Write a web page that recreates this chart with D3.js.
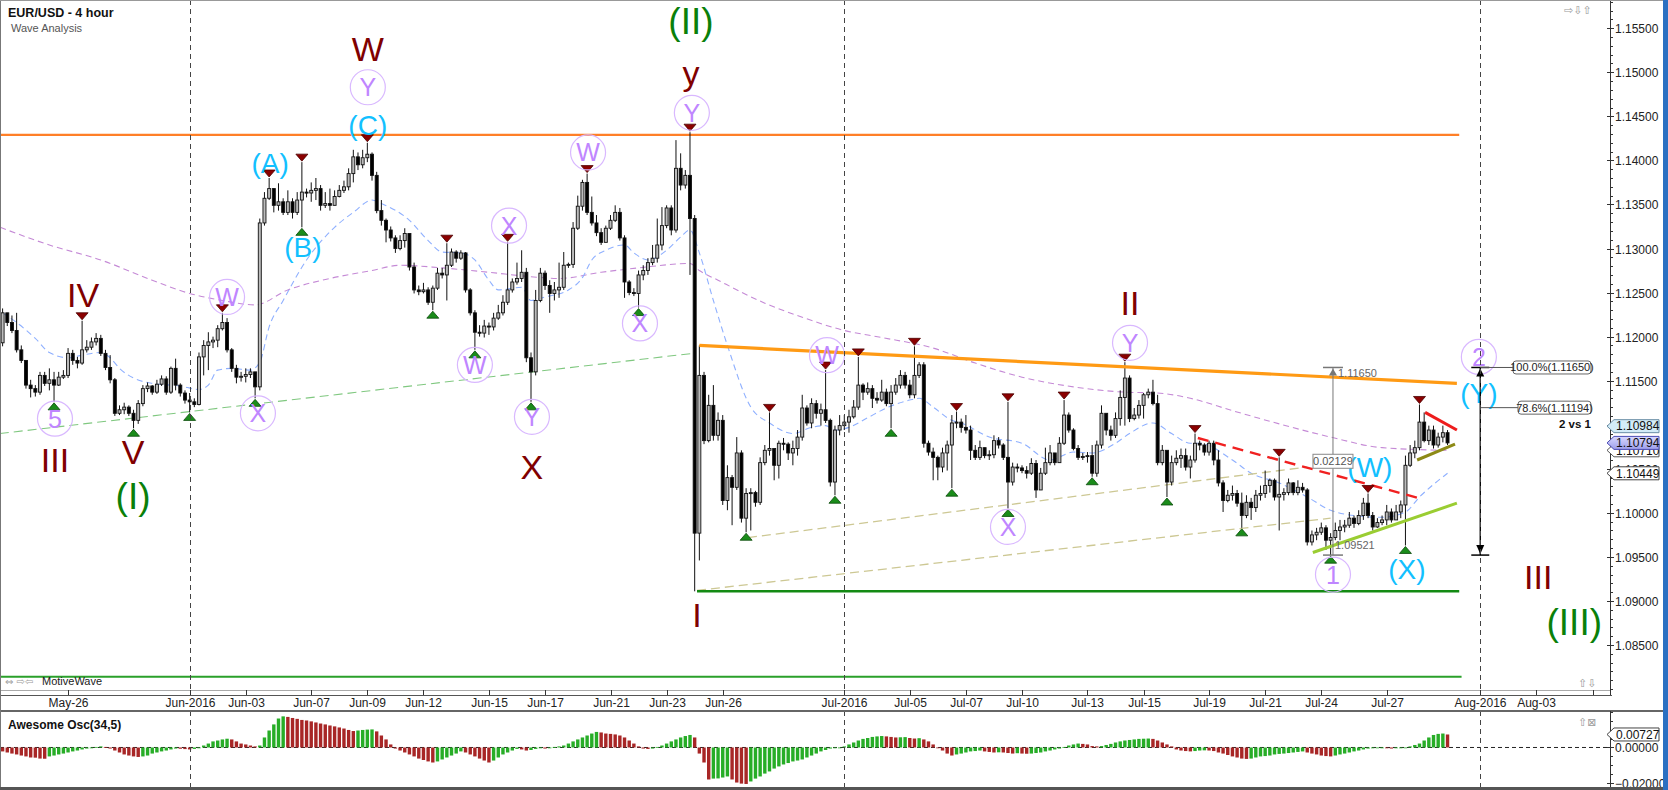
<!DOCTYPE html>
<html><head><meta charset="utf-8">
<script src="https://cdn.jsdelivr.net/npm/d3@7"></script>
<style>
html,body{margin:0;padding:0;background:#fff;overflow:hidden;}
svg{display:block;font-family:"Liberation Sans",Arial,sans-serif;}
</style></head><body>
<svg id="c" width="1668" height="790"></svg>
<script>
// ---------------- DATA ----------------
const title = "EUR/USD - 4 hour";
const subtitle = "Wave Analysis";
const oscTitle = "Awesome Osc(34,5)";
// 4-hour bars; first bar = 5th bar of 2016-05-23
const startDay = "2016-05-23";
const startBarOfDay = 4;
const firstOpen = 1.1193;
const closes = [
1.1227,1.1216,1.1207,1.1185,1.1173,1.1145,1.1141,1.1137,1.1156,1.1147,
1.1151,1.1145,1.1154,1.1156,1.1181,1.1173,1.1170,1.1185,1.1188,1.1194,
1.1198,1.1181,1.1165,1.1151,1.1113,1.1117,1.1120,1.1113,1.1105,1.1124,
1.1141,1.1144,1.1137,1.1146,1.1152,1.1137,1.1164,1.1145,1.1136,1.1128,
1.1126,1.1123,1.1177,1.1190,1.1194,1.1196,1.1209,1.1216,1.1185,1.1164,
1.1154,1.1155,1.1157,1.1160,1.1143,1.1329,1.1357,1.1368,1.1349,1.1353,
1.1341,1.1353,1.1341,1.1355,1.1364,1.1363,1.1366,1.1368,1.1349,1.1351,
1.1349,1.1359,1.1366,1.1370,1.1385,1.1404,1.1395,1.1403,1.1407,1.1383,
1.1343,1.1332,1.1321,1.1312,1.1300,1.1309,1.1317,1.1279,1.1253,1.1251,
1.1253,1.1239,1.1255,1.1272,1.1270,1.1281,1.1296,1.1289,1.1295,1.1253,
1.1227,1.1205,1.1204,1.1212,1.1211,1.1221,1.1227,1.1239,1.1253,1.1262,
1.1266,1.1273,1.1176,1.1160,1.1241,1.1272,1.1258,1.1249,1.1253,1.1256,
1.1281,1.1282,1.1323,1.1348,1.1375,1.1341,1.1329,1.1318,1.1307,1.1323,
1.1332,1.1341,1.1312,1.1262,1.1250,1.1249,1.1270,1.1275,1.1284,1.1289,
1.1304,1.1326,1.1346,1.1321,1.1391,1.1372,1.1383,1.1334,1.0977,1.1156,
1.1082,1.1122,1.1088,1.1105,1.1014,1.1040,1.1029,1.1068,1.0994,1.1022,
1.1023,1.1012,1.1057,1.1071,1.1073,1.1054,1.1079,1.1078,1.1068,1.1073,
1.1086,1.1119,1.1102,1.1124,1.1113,1.1117,1.1105,1.1035,1.1094,1.1099,
1.1103,1.1109,1.1120,1.1145,1.1137,1.1141,1.1130,1.1128,1.1137,1.1124,
1.1137,1.1145,1.1156,1.1145,1.1134,1.1156,1.1168,1.1079,1.1069,1.1063,
1.1052,1.1068,1.1077,1.1102,1.1103,1.1097,1.1094,1.1071,1.1063,1.1074,
1.1065,1.1066,1.1082,1.1077,1.1063,1.1035,1.1052,1.1051,1.1048,1.1045,
1.1056,1.1026,1.1045,1.1057,1.1068,1.1057,1.1079,1.1111,1.1094,1.1073,
1.1063,1.1064,1.1065,1.1045,1.1077,1.1113,1.1094,1.1088,1.1107,1.1131,
1.1153,1.1107,1.1111,1.1122,1.1134,1.1137,1.1124,1.1057,1.1071,1.1035,
1.1057,1.1062,1.1065,1.1052,1.1060,1.1079,1.1077,1.1069,1.1079,1.1060,
1.1034,1.1014,1.1020,1.1022,1.1011,1.0997,1.1012,1.1006,1.1020,1.1022,
1.1031,1.1037,1.1018,1.1021,1.1023,1.1034,1.1023,1.1029,1.1026,1.0967,
1.0975,1.0978,1.0983,1.0969,1.0972,1.0980,1.0984,1.0986,1.0994,1.0988,
1.0997,1.1011,1.0997,1.0984,1.0989,1.0992,1.1001,1.0992,1.1001,1.1009,
1.1054,1.1068,1.1074,1.1103,1.1082,1.1094,1.1077,1.1086,1.1091,1.10794];
const highs = [
1.1232,1.1224,1.1224,1.1227,1.1190,1.1173,1.1151,1.1145,1.1160,1.1160,
1.1164,1.1160,1.1160,1.1162,1.1187,1.1185,1.1177,1.1218,1.1196,1.1199,
1.1204,1.1202,1.1185,1.1179,1.1153,1.1122,1.1125,1.1122,1.1117,1.1128,
1.1145,1.1148,1.1145,1.1151,1.1156,1.1155,1.1166,1.1175,1.1147,1.1139,
1.1136,1.1130,1.1182,1.1196,1.1205,1.1200,1.1213,1.1227,1.1221,1.1187,
1.1168,1.1160,1.1164,1.1164,1.1160,1.1334,1.1364,1.1380,1.1368,1.1374,
1.1357,1.1366,1.1357,1.1364,1.1398,1.1368,1.1375,1.1380,1.1372,1.1364,
1.1368,1.1366,1.1372,1.1377,1.1391,1.1412,1.1409,1.1412,1.1420,1.1409,
1.1387,1.1355,1.1334,1.1325,1.1315,1.1315,1.1323,1.1315,1.1284,1.1258,
1.1261,1.1256,1.1258,1.1278,1.1278,1.1306,1.1300,1.1298,1.1298,1.1296,
1.1255,1.1230,1.1213,1.1219,1.1216,1.1227,1.1236,1.1247,1.1307,1.1266,
1.1284,1.1298,1.1278,1.1182,1.1253,1.1278,1.1275,1.1264,1.1262,1.1284,
1.1296,1.1284,1.1330,1.1360,1.1378,1.1385,1.1359,1.1338,1.1323,1.1326,
1.1338,1.1349,1.1346,1.1315,1.1264,1.1255,1.1275,1.1281,1.1289,1.1304,
1.1334,1.1347,1.1349,1.1349,1.1423,1.1408,1.1389,1.1432,1.1338,1.1190,
1.1160,1.1134,1.1145,1.1114,1.1111,1.1054,1.1043,1.1086,1.1071,1.1028,
1.1028,1.1025,1.1063,1.1077,1.1114,1.1071,1.1082,1.1085,1.1080,1.1082,
1.1094,1.1134,1.1122,1.1130,1.1128,1.1124,1.1162,1.1107,1.1099,1.1111,
1.1111,1.1117,1.1128,1.1177,1.1147,1.1148,1.1145,1.1137,1.1151,1.1141,
1.1145,1.1153,1.1162,1.1160,1.1151,1.1189,1.1171,1.1171,1.1082,1.1074,
1.1065,1.1074,1.1082,1.1111,1.1115,1.1107,1.1111,1.1099,1.1077,1.1082,
1.1071,1.1071,1.1088,1.1086,1.1079,1.1126,1.1057,1.1056,1.1054,1.1053,
1.1062,1.1060,1.1051,1.1074,1.1077,1.1065,1.1086,1.1128,1.1114,1.1096,
1.1077,1.1068,1.1069,1.1077,1.1082,1.1122,1.1113,1.1099,1.1114,1.1139,
1.1171,1.1156,1.1119,1.1128,1.1136,1.1141,1.1151,1.1134,1.1077,1.1071,
1.1065,1.1071,1.1073,1.1073,1.1065,1.1090,1.1082,1.1079,1.1082,1.1082,
1.1071,1.1037,1.1026,1.1031,1.1026,1.1023,1.1020,1.1017,1.1026,1.1031,
1.1048,1.1039,1.1039,1.1063,1.1028,1.1039,1.1035,1.1037,1.1034,1.1028,
1.0980,1.0983,1.0989,1.0986,1.0977,1.0989,1.0992,1.0992,1.1001,1.0997,
1.1003,1.1017,1.1022,1.1001,1.0994,1.0997,1.1009,1.1005,1.1009,1.1014,
1.1065,1.1077,1.1082,1.1123,1.1114,1.1099,1.1099,1.1091,1.1099,1.1094];
const lows = [
1.1189,1.1212,1.1204,1.1182,1.1170,1.1141,1.1131,1.1132,1.1134,1.1144,
1.1139,1.1126,1.1144,1.1152,1.1153,1.1168,1.1164,1.1168,1.1182,1.1185,
1.1190,1.1178,1.1162,1.1147,1.1110,1.1111,1.1112,1.1110,1.1096,1.1101,
1.1121,1.1137,1.1134,1.1135,1.1144,1.1134,1.1135,1.1139,1.1132,1.1124,
1.1114,1.1120,1.1122,1.1156,1.1162,1.1187,1.1188,1.1207,1.1182,1.1160,
1.1147,1.1149,1.1148,1.1153,1.1130,1.1139,1.1326,1.1355,1.1341,1.1343,
1.1338,1.1338,1.1334,1.1338,1.1324,1.1358,1.1353,1.1355,1.1343,1.1346,
1.1343,1.1355,1.1358,1.1363,1.1366,1.1375,1.1389,1.1391,1.1398,1.1377,
1.1340,1.1326,1.1307,1.1308,1.1295,1.1298,1.1301,1.1275,1.1249,1.1247,
1.1249,1.1236,1.1230,1.1253,1.1266,1.1241,1.1279,1.1284,1.1287,1.1250,
1.1224,1.1185,1.1200,1.1199,1.1202,1.1207,1.1219,1.1224,1.1236,1.1250,
1.1259,1.1262,1.1171,1.1126,1.1156,1.1239,1.1253,1.1227,1.1241,1.1244,
1.1253,1.1278,1.1278,1.1321,1.1343,1.1338,1.1326,1.1314,1.1304,1.1307,
1.1321,1.1330,1.1309,1.1244,1.1247,1.1246,1.1233,1.1264,1.1270,1.1281,
1.1284,1.1298,1.1323,1.1315,1.1318,1.1366,1.1368,1.1270,1.0911,1.0946,
1.1078,1.1080,1.1082,1.1082,1.1009,1.1003,1.0986,1.1026,1.0989,1.0978,
1.0980,1.1007,1.1009,1.1054,1.1065,1.1037,1.1039,1.1071,1.1060,1.1054,
1.1065,1.1082,1.1099,1.1096,1.1107,1.1099,1.1102,1.1030,1.1020,1.1088,
1.1094,1.1091,1.1107,1.1117,1.1128,1.1134,1.1119,1.1124,1.1126,1.1121,
1.1096,1.1134,1.1141,1.1141,1.1130,1.1130,1.1153,1.1074,1.1065,1.1037,
1.1037,1.1046,1.1048,1.1028,1.1096,1.1091,1.1090,1.1060,1.1060,1.1060,
1.1062,1.1060,1.1062,1.1073,1.1060,1.1005,1.1031,1.1046,1.1045,1.1039,
1.1043,1.1017,1.1037,1.1043,1.1054,1.1054,1.1057,1.1077,1.1091,1.1071,
1.1060,1.1060,1.1057,1.1041,1.1041,1.1073,1.1088,1.1082,1.1085,1.1099,
1.1099,1.1103,1.1105,1.1107,1.1107,1.1130,1.1122,1.1054,1.1054,1.1018,
1.1031,1.1054,1.1051,1.1048,1.1039,1.1057,1.1071,1.1065,1.1065,1.1054,
1.1030,1.1001,1.1012,1.1014,1.1007,1.0983,1.0994,1.0992,1.1001,1.1014,
1.1017,1.1023,1.1014,1.0980,1.1014,1.1020,1.1020,1.1020,1.1023,1.0963,
1.0963,1.0969,1.0975,1.0958,1.0952,1.0969,1.0969,1.0978,1.0983,1.0983,
1.0986,1.0992,1.0994,1.0980,1.0983,1.0986,1.0986,1.0989,1.0992,1.0994,
1.0963,1.1052,1.1062,1.1071,1.1080,1.1077,1.1073,1.1074,1.1080,1.1077];
// Awesome Oscillator values, in thousandths
const aoMilli = [
-2.2,-2.8,-3.4,-3.9,-4.5,-5.0,-5.6,-5.7,-6.2,-6.3,
-5.0,-4.5,-3.9,-3.4,-2.8,-2.2,-1.7,-1.1,-0.6,0.0,
0.3,0.6,0.3,-0.6,-1.7,-2.8,-3.9,-4.5,-5.0,-5.3,
-5.0,-4.5,-3.4,-2.8,-2.2,-1.7,-1.1,-0.6,-0.7,-0.9,
-1.1,-0.8,0.0,1.1,2.2,3.4,3.9,4.5,4.9,4.5,
3.4,2.2,1.7,1.1,0.6,1.1,5.6,9.5,12.9,16.2,
17.4,17.1,16.5,16.0,15.4,15.1,14.6,14.0,13.4,12.9,
12.3,11.8,11.2,10.6,9.8,9.2,9.5,9.8,10.0,10.1,
9.0,6.7,4.5,1.7,-0.6,-1.7,-2.8,-3.9,-5.0,-6.2,
-7.0,-7.8,-8.4,-7.8,-6.7,-5.6,-4.5,-3.4,-2.2,-2.8,
-3.9,-5.0,-6.2,-7.3,-8.4,-7.3,-5.6,-3.9,-2.8,-1.7,
-0.8,-1.1,-1.7,-1.4,-0.8,-0.3,-0.6,-0.3,0.3,0.6,
1.1,2.2,3.4,4.5,5.6,6.7,7.8,8.7,8.4,7.8,
7.6,7.3,6.7,5.6,3.9,2.2,0.6,-0.6,-0.8,-0.6,
0.3,1.1,2.2,3.4,4.5,5.6,6.4,7.0,5.6,-3.4,
-8.4,-17.9,-17.4,-17.3,-16.8,-16.2,-17.9,-19.6,-20.2,-20.4,
-19.0,-17.4,-16.2,-14.6,-13.4,-11.8,-10.6,-9.5,-8.7,-7.8,
-7.3,-6.7,-5.6,-4.5,-3.4,-2.2,-1.4,-0.6,-0.2,-0.1,
0.6,1.7,2.8,3.9,4.8,5.3,5.9,6.2,6.4,6.2,
5.9,5.6,5.7,5.8,5.3,5.0,5.2,4.5,3.4,1.7,
0.0,-1.7,-3.4,-4.5,-3.9,-3.4,-2.8,-2.2,-2.0,-1.7,
-2.2,-2.5,-2.8,-2.7,-2.8,-3.1,-3.4,-3.2,-3.4,-3.5,
-3.4,-3.1,-2.8,-2.2,-1.7,-1.1,-0.6,0.3,1.1,1.7,
2.2,2.0,1.7,0.8,0.6,0.8,1.4,2.0,2.8,3.4,
3.9,4.2,4.5,4.8,4.9,5.0,4.8,3.9,2.8,1.7,
0.6,-1.1,-1.7,-2.0,-2.2,-2.0,-1.7,-1.6,-1.7,-2.0,
-2.8,-3.4,-4.2,-5.0,-5.6,-6.2,-6.4,-6.2,-5.6,-5.0,
-4.8,-4.5,-3.9,-3.6,-3.4,-3.1,-2.8,-2.5,-2.2,-2.8,
-3.4,-3.9,-4.5,-4.8,-5.0,-4.5,-3.9,-3.4,-2.8,-2.2,
-1.7,-1.1,-0.6,-0.3,-0.1,0.0,-0.3,-0.6,-0.4,-0.2,
0.0,0.6,1.4,2.2,3.9,5.6,7.0,7.6,7.8,7.27];
// moving averages read at sample bars [bar, price]
const maFast = [[0,1.1227],[3,1.1216],[7,1.1198],[10,1.1182],[14,1.1176],[17,1.1179],[21,1.1182],[23,1.1176],[25,1.1164],[28,1.1153],[32,1.1147],[38,1.1144],[42,1.1140],[44,1.1145],[46,1.1162],[49,1.1164],[53,1.1162],[55,1.1171],[57,1.1211],[60,1.1241],[65,1.1287],[71,1.1324],[75,1.1341],[79,1.1355],[81,1.1351],[87,1.1332],[91,1.1309],[94,1.1296],[98,1.1295],[101,1.1287],[104,1.1264],[106,1.1253],[111,1.1256],[113,1.1241],[116,1.1245],[121,1.1253],[124,1.1267],[126,1.1287],[129,1.1298],[133,1.1304],[135,1.1295],[138,1.1287],[142,1.1298],[145,1.1313],[147,1.1321],[149,1.1295],[152,1.1241],[155,1.1190],[160,1.1120],[164,1.1102],[169,1.1090],[173,1.1097],[176,1.1099],[178,1.1094],[181,1.1097],[185,1.1108],[189,1.1119],[194,1.1128],[196,1.1130],[199,1.1120],[203,1.1105],[205,1.1102],[211,1.1086],[218,1.1079],[224,1.1060],[229,1.1069],[233,1.1068],[238,1.1079],[241,1.1090],[246,1.1102],[250,1.1090],[254,1.1079],[256,1.1079],[263,1.1060],[267,1.1045],[273,1.1034],[279,1.1018],[284,1.1003],[289,1.0997],[295,1.0995],[300,1.1001],[303,1.1018],[309,1.10449]];
const maSlow = [[-0.5,1.1324],[10,1.1304],[21,1.1287],[32,1.1264],[40,1.1249],[47,1.1241],[54,1.1236],[61,1.1253],[70,1.1266],[79,1.1275],[85,1.1281],[94,1.1278],[104,1.1273],[113,1.1268],[119,1.1266],[128,1.1273],[136,1.1278],[147,1.1283],[149,1.1275],[153,1.1264],[163,1.1238],[171,1.1222],[180,1.1207],[188,1.1199],[199,1.1187],[208,1.1170],[218,1.1154],[229,1.1143],[240,1.1137],[247,1.1136],[254,1.1130],[263,1.1116],[273,1.1101],[284,1.1086],[295,1.1074],[309,1.10710]];
// horizontal levels and trend lines [bar, price]
const resistance = 1.1429;
const brexitLow = 1.0911;
const lowerSupport = 1.0814;
const orangeTrend = [[149,1.1190],[311,1.1147]];
const greenDashed = [[-0.6,1.1090],[147.6,1.1181]];
const khakiUpper = [[159.4,1.0972],[279,1.1052]];
const khakiLower = [[148.5,1.0912],[284,1.0994]];
const redDashed = [[255.6,1.1085],[302.7,1.1017]];
const limeLine = [[280.2,1.0955],[311,1.1011]];
const redTri = [[304.2,1.1114],[311,1.1094]];
const oliveTri = [[302.5,1.1060],[310.6,1.1078]];
// swing markers (bar indices)
const pivotHighBars = [17,47,57,64,78,95,108,125,147,164,176,183,195,204,215,227,240,255,273,292,303];
const pivotLowBars = [11,28,40,54,64,92,101,113,136,159,178,190,203,215,233,249,265,284,300];
// wave labels [text, bar, price]
const darkRedLabels = [["W",78.1,1.1527],["IV",17.2,1.1247],["III",11.2,1.1060],["V",27.9,1.1069],["X",113.2,1.1052],["y",147.2,1.1500],["I",148.5,1.0884],["II",241.1,1.1238],["III",328.4,1.0927]];
const greenLabels = [["(I)",27.9,1.1020],["(II)",147.2,1.1558],["(III)",336.1,1.0876]];
const cyanLabels = [["(C)",78.1,1.1440],["(A)",57.2,1.1397],["(B)",64.2,1.1302],["(W)",292.4,1.1052],["(X)",300.3,1.0936],["(Y)",315.7,1.1136]];
const circledLabels = [["Y",78.1,1.1483],["W",48,1.1245],["5",11.2,1.1107],["X",54.6,1.1113],["X",108.3,1.1326],["W",101,1.1168],["Y",113.2,1.1109],["W",125.2,1.1409],["X",136.3,1.1215],["Y",147.4,1.1454],["W",176.3,1.1179],["X",215,1.0984],["Y",241.1,1.1193],["1",284.5,1.0930],["2",315.7,1.1177]];
// measurements
const measureBar = 284.5, measureTop = 1.11650, measureBottom = 1.09521;
const fibBar = 316;
const fibLevels = [[1.000,1.11650],[0.786,1.11194]];
const fibNote = "2 vs 1";
// right axis price markers
const markerPrices = {blue:1.10984, last:1.10794, slow:1.10710, fast:1.10449};
const aoLast = 0.00727;
// time axis ticks
const tickDates = ["2016-05-26","2016-06-01","2016-06-03","2016-06-07","2016-06-09","2016-06-12","2016-06-15","2016-06-17","2016-06-21","2016-06-23","2016-06-26","2016-07-01","2016-07-05","2016-07-07","2016-07-10","2016-07-13","2016-07-15","2016-07-19","2016-07-21","2016-07-24","2016-07-27","2016-08-01","2016-08-03","2016-08-05"];
const monthNames = ["Jan","Feb","Mar","Apr","May","Jun","Jul","Aug","Sep","Oct","Nov","Dec"];
const priceTicks = d3.range(1.085, 1.1551, 0.005);
const oscTickLabels = [0, -0.02];

// ---------------- LAYOUT ----------------
const W = 1668, H = 790;
const axisX = 1610, mainBottom = 690, oscTop = 711, oscBottom = 787;
const svg = d3.select("#c");
const x = d3.scaleLinear().domain([0, 340]).range([2.6, 1592.5]);
const y = d3.scaleLinear().domain([1.0799, 1.1582]).range([690, 0]);
const yo = d3.scaleLinear().domain([-0.0221, 0.0204]).range([787, 711]);

// bar slots from calendar (Sun 2 bars, Mon-Fri 6 bars, Sat none)
const dayStart = new Map();
{
  let d = new Date(startDay + "T00:00:00Z"), idx = -startBarOfDay;
  for (let n = 0; n < 90; n++) {
    const dow = d.getUTCDay();
    const nb = dow === 6 ? 0 : (dow === 0 ? 2 : 6);
    if (nb > 0) { dayStart.set(d.toISOString().slice(0,10), idx); idx += nb; }
    d = new Date(d.getTime() + 86400000);
  }
}
function fmtDate(s){ const [yy,mm,dd] = s.split("-").map(Number); return dd===1 ? `${monthNames[mm-1]}-${yy}` : `${monthNames[mm-1]}-${String(dd).padStart(2,"0")}`; }

svg.append("rect").attr("width",W).attr("height",H).attr("fill","#fff");
const defs = svg.append("defs");
defs.append("clipPath").attr("id","mainClip").append("rect").attr("x",0).attr("y",0).attr("width",axisX).attr("height",mainBottom);
defs.append("clipPath").attr("id","oscClip").append("rect").attr("x",0).attr("y",oscTop).attr("width",axisX).attr("height",oscBottom-oscTop);
const grad = defs.append("linearGradient").attr("id","lastGrad").attr("x1",0).attr("y1",0).attr("x2",0).attr("y2",1);
grad.append("stop").attr("offset","0%").attr("stop-color","#d8d8ff");
grad.append("stop").attr("offset","100%").attr("stop-color","#9d9dea");

const main = svg.append("g").attr("clip-path","url(#mainClip)");
const osc = svg.append("g").attr("clip-path","url(#oscClip)");

// month grid lines
tickDates.filter(s => s.endsWith("-01")).forEach(s => {
  const xx = Math.round(x(dayStart.get(s))) + 0.5;
  svg.append("line").attr("x1",xx).attr("x2",xx).attr("y1",0).attr("y2",mainBottom).attr("stroke","#444").attr("stroke-dasharray","5,4");
  svg.append("line").attr("x1",xx).attr("x2",xx).attr("y1",oscTop).attr("y2",oscBottom).attr("stroke","#444").attr("stroke-dasharray","5,4");
});

const line = d3.line().x(d => x(d[0])).y(d => y(d[1]));
const smooth = d3.line().x(d => x(d[0])).y(d => y(d[1])).curve(d3.curveMonotoneX);
const xL = x.invert(0), xR = 311.5;

// moving averages & dashed trend lines (behind candles)
main.append("path").attr("d", smooth(maSlow)).attr("fill","none").attr("stroke","#c58ad6").attr("stroke-width",1.1).attr("stroke-dasharray","6,4");
main.append("path").attr("d", smooth(maFast)).attr("fill","none").attr("stroke","#8fb0ff").attr("stroke-width",1.1).attr("stroke-dasharray","6,4");
main.append("path").attr("d", line(greenDashed)).attr("stroke","#80c880").attr("stroke-width",1.1).attr("stroke-dasharray","9,5");
main.append("path").attr("d", line(khakiUpper)).attr("stroke","#cdc894").attr("stroke-width",1.3).attr("stroke-dasharray","9,5");
main.append("path").attr("d", line(khakiLower)).attr("stroke","#cdc894").attr("stroke-width",1.3).attr("stroke-dasharray","9,5");

// horizontal levels
main.append("path").attr("d", line([[xL,resistance],[xR,resistance]])).attr("stroke","#ff7f27").attr("stroke-width",2.2);
main.append("path").attr("d", line([[148.5,brexitLow],[xR,brexitLow]])).attr("stroke","#138a13").attr("stroke-width",2.6);
main.append("path").attr("d", line([[xL,lowerSupport],[312,lowerSupport]])).attr("stroke","#2aa02a").attr("stroke-width",2);

// candles
const bars = closes.map((c,i) => ({i, o: i ? closes[i-1] : firstOpen, h: highs[i], l: lows[i], c}));
const cg = main.append("g");
cg.selectAll("line.w").data(bars).join("line")
  .attr("x1",d=>x(d.i)).attr("x2",d=>x(d.i))
  .attr("y1",d=>y(Math.max(d.h,d.o,d.c))).attr("y2",d=>y(Math.min(d.l,d.o,d.c)))
  .attr("stroke","#111").attr("stroke-width",1);
cg.selectAll("rect").data(bars).join("rect")
  .attr("x",d=>x(d.i)-1.5).attr("width",3)
  .attr("y",d=>y(Math.max(d.o,d.c)))
  .attr("height",d=>Math.max(1,Math.abs(y(d.o)-y(d.c))))
  .attr("fill",d=>d.c>=d.o ? "#bcbcbc" : "#000")
  .attr("stroke","#111").attr("stroke-width",0.9);

// solid trend lines on top
main.append("path").attr("d", line(orangeTrend)).attr("stroke","#ff9a14").attr("stroke-width",3.2);
main.append("path").attr("d", line(redDashed)).attr("stroke","#f02020").attr("stroke-width",2.4).attr("stroke-dasharray","11,7");
main.append("path").attr("d", line(limeLine)).attr("stroke","#9acd32").attr("stroke-width",3);
main.append("path").attr("d", line(redTri)).attr("stroke","#ee1c1c").attr("stroke-width",3);
main.append("path").attr("d", line(oliveTri)).attr("stroke","#8d8a16").attr("stroke-width",3);

// swing markers
pivotHighBars.forEach(b => {
  const cx = x(b), ap = y(highs[b]) - 1;
  main.append("path").attr("d",`M${cx},${ap}L${cx-6},${ap-7}L${cx+6},${ap-7}Z`).attr("fill","#8b0000").attr("stroke","#4a0000").attr("stroke-width",0.8);
});
pivotLowBars.forEach(b => {
  const cx = x(b), ap = y(lows[b]) + 1;
  main.append("path").attr("d",`M${cx},${ap}L${cx-6},${ap+7}L${cx+6},${ap+7}Z`).attr("fill","#1a8c1a").attr("stroke","#0a4a0a").attr("stroke-width",0.8);
});

// wave labels
function addLabels(arr, size, color){
  arr.forEach(([t,b,p]) => {
    main.append("text").attr("x",x(b)).attr("y",y(p)+size*0.36).attr("text-anchor","middle")
      .attr("font-size",size).attr("fill",color).text(t);
  });
}
addLabels(darkRedLabels, 34, "#800000");
addLabels(greenLabels, 37, "#0a800a");
addLabels(cyanLabels, 28, "#12c0ff");
circledLabels.forEach(([t,b,p]) => {
  main.append("circle").attr("cx",x(b)).attr("cy",y(p)).attr("r",17.5).attr("fill","none").attr("stroke","#d9b8ff").attr("stroke-width",1.2);
  main.append("text").attr("x",x(b)).attr("y",y(p)+9).attr("text-anchor","middle").attr("font-size",25).attr("fill","#bf86ff").text(t);
});

// gray measurement tool
{
  const mx = x(measureBar), t = y(measureTop), b = y(measureBottom);
  const g = main.append("g").attr("stroke","#777").attr("fill","none");
  g.append("line").attr("x1",mx).attr("x2",mx).attr("y1",t).attr("y2",b);
  g.append("line").attr("x1",mx-10).attr("x2",mx+10).attr("y1",t).attr("y2",t).attr("stroke-width",1.5);
  g.append("line").attr("x1",mx-10).attr("x2",mx+10).attr("y1",b).attr("y2",b).attr("stroke-width",1.5);
  main.append("path").attr("d",`M${mx},${t+1}L${mx-4},${t+8}L${mx+4},${t+8}Z`).attr("fill","#777");
  main.append("text").attr("x",mx+5).attr("y",t+10).attr("font-size",11).attr("fill","#666").text(measureTop.toFixed(5));
  main.append("text").attr("x",mx+2).attr("y",b-6).attr("font-size",11).attr("fill","#666").text(measureBottom.toFixed(5));
  const mid = (t+b)/2;
  main.append("rect").attr("x",mx-20).attr("y",mid-7).attr("width",40).attr("height",14).attr("fill","#fff").attr("stroke","#888");
  main.append("text").attr("x",mx).attr("y",mid+4).attr("text-anchor","middle").attr("font-size",11).attr("fill","#555").text((measureTop-measureBottom).toFixed(5));
}
// fib projection (black)
{
  const fx = x(fibBar), t = y(fibLevels[0][1]), b = y(measureBottom);
  const g = main.append("g").attr("stroke","#000");
  g.append("line").attr("x1",fx).attr("x2",fx).attr("y1",t).attr("y2",b).attr("stroke-width",1.4);
  g.append("line").attr("x1",fx-9).attr("x2",fx+9).attr("y1",t).attr("y2",t).attr("stroke-width",1.5);
  g.append("line").attr("x1",fx-9).attr("x2",fx+9).attr("y1",b).attr("y2",b).attr("stroke-width",1.5);
  main.append("path").attr("d",`M${fx},${t+1}L${fx-4},${t+9}L${fx+4},${t+9}Z`).attr("fill","#000");
  main.append("path").attr("d",`M${fx},${b-1}L${fx-4},${b-10}L${fx+4},${b-10}Z`).attr("fill","#000");
  fibLevels.forEach(([r,p],k) => {
    const yy = y(p), bx = k===0 ? 1513 : 1518;
    main.append("line").attr("x1",fx).attr("x2",bx).attr("y1",yy).attr("y2",yy).attr("stroke","#555");
    const txt = `${(r*100).toFixed(1)}%(${p.toFixed(5)})`;
    main.append("rect").attr("x",bx).attr("y",yy-6.5).attr("width",1591-bx).attr("height",13).attr("rx",3).attr("fill","#fff").attr("stroke","#666");
    main.append("text").attr("x",(bx+1591)/2).attr("y",yy+4).attr("text-anchor","middle").attr("font-size",11).attr("fill","#222").text(txt);
  });
  main.append("text").attr("x",1591).attr("y",y(fibLevels[1][1])+20).attr("text-anchor","end").attr("font-size",11.5).attr("font-weight","bold").attr("fill","#111").text(fibNote);
}

// ---------------- OSCILLATOR ----------------
const ao = aoMilli.map(v => v/1000);
osc.append("line").attr("x1",0).attr("x2",axisX).attr("y1",yo(0)).attr("y2",yo(0)).attr("stroke","#222").attr("stroke-dasharray","4,3");
osc.selectAll("rect.ao").data(ao).join("rect")
  .attr("x",(d,i)=>x(i)-1.7).attr("width",3.4)
  .attr("y",d=>Math.min(yo(d),yo(0))).attr("height",d=>Math.max(0.8,Math.abs(yo(d)-yo(0))))
  .attr("fill",(d,i)=> (i>0 && d>=ao[i-1]) ? "#27ad27" : "#a82626");
svg.append("text").attr("x",8).attr("y",729).attr("font-size",12).attr("font-weight","bold").attr("fill","#111").text(oscTitle);

// ---------------- AXES & FRAME ----------------
// time axis
svg.append("line").attr("x1",0).attr("x2",axisX).attr("y1",690.5).attr("y2",690.5).attr("stroke","#aaa");
svg.append("line").attr("x1",0).attr("x2",axisX+2).attr("y1",695.5).attr("y2",695.5).attr("stroke","#555");
tickDates.forEach(s => {
  const xx = Math.round(x(dayStart.get(s))) + 0.5;
  svg.append("line").attr("x1",xx).attr("x2",xx).attr("y1",690).attr("y2",695).attr("stroke","#333");
  if (xx < 1570) svg.append("text").attr("x",xx).attr("y",707).attr("text-anchor","middle").attr("font-size",12).attr("fill","#222").text(fmtDate(s));
});
svg.append("rect").attr("x",0).attr("y",710).attr("width",1664).attr("height",2).attr("fill","#666");
// price axis
svg.append("line").attr("x1",axisX+0.5).attr("x2",axisX+0.5).attr("y1",0).attr("y2",695).attr("stroke","#333");
d3.range(1.080, 1.1582, 0.001).forEach(p => {
  const yy = Math.round(y(p))+0.5;
  svg.append("line").attr("x1",axisX).attr("x2",axisX+3).attr("y1",yy).attr("y2",yy).attr("stroke","#333");
});
priceTicks.forEach(p => {
  const yy = Math.round(y(p))+0.5;
  svg.append("line").attr("x1",axisX-3).attr("x2",axisX+4).attr("y1",yy).attr("y2",yy).attr("stroke","#333");
  svg.append("text").attr("x",1615).attr("y",yy+4.5).attr("font-size",12).attr("fill","#222").text(d3.format(".5f")(p));
});
// osc axis
svg.append("line").attr("x1",axisX+0.5).attr("x2",axisX+0.5).attr("y1",oscTop).attr("y2",oscBottom).attr("stroke","#333");
d3.range(-0.020, 0.0201, 0.005).forEach(v => {
  const yy = Math.round(yo(v))+0.5;
  svg.append("line").attr("x1",axisX).attr("x2",axisX+3).attr("y1",yy).attr("y2",yy).attr("stroke","#333");
});
oscTickLabels.forEach(v => {
  const yy = Math.round(yo(v))+0.5;
  svg.append("line").attr("x1",axisX-3).attr("x2",axisX+4).attr("y1",yy).attr("y2",yy).attr("stroke","#333");
  svg.append("text").attr("x",1615).attr("y",yy+4.5).attr("font-size",12).attr("fill","#222").text(d3.format(".5f")(v));
});
// value boxes
function valueBox(cy, text, fill, stroke){
  const g = svg.append("g");
  g.append("path").attr("d",`M1607,${cy}L1614,${cy-6.5}H1659V${cy+6.5}H1614Z`).attr("fill",fill).attr("stroke",stroke);
  g.append("text").attr("x",1616).attr("y",cy+4.3).attr("font-size",12).attr("fill","#111").text(text);
}
valueBox(y(markerPrices.slow), markerPrices.slow.toFixed(5), "#fff", "#555");
valueBox(y(markerPrices.fast), markerPrices.fast.toFixed(5), "#fff", "#444");
valueBox(y(markerPrices.blue), markerPrices.blue.toFixed(5), "#d3ecf8", "#6b8fa6");
valueBox(y(closes[closes.length-1]), closes[closes.length-1].toFixed(5), "url(#lastGrad)", "#4d4db3");
valueBox(yo(aoLast), aoLast.toFixed(5), "#fff", "#444");

// titles & icons
svg.append("text").attr("x",8).attr("y",17).attr("font-size",12.5).attr("font-weight","bold").attr("fill","#111").text(title);
svg.append("text").attr("x",11).attr("y",32).attr("font-size",11).attr("fill","#555").text(subtitle);
svg.append("text").attr("x",42).attr("y",685).attr("font-size",11).attr("fill","#222").text("MotiveWave");
svg.append("text").attr("x",5).attr("y",685).attr("font-family","DejaVu Sans").attr("font-size",10).attr("fill","#999").text("\u21D4 \u21E8\u21E6");
svg.append("text").attr("x",1564).attr("y",14).attr("font-family","DejaVu Sans").attr("font-size",11).attr("fill","#999").text("\u21E8\u21E9\u21E7");
svg.append("text").attr("x",1578).attr("y",687).attr("font-family","DejaVu Sans").attr("font-size",11).attr("fill","#999").text("\u21E7\u21E9");
svg.append("text").attr("x",1578).attr("y",726).attr("font-family","DejaVu Sans").attr("font-size",11).attr("fill","#999").text("\u21E7\u22A0");

// frame
svg.append("line").attr("x1",0.5).attr("x2",0.5).attr("y1",0).attr("y2",H).attr("stroke","#777");
svg.append("line").attr("x1",0).attr("x2",1664).attr("y1",0.5).attr("y2",0.5).attr("stroke","#999");
svg.append("rect").attr("x",0).attr("y",787).attr("width",W).attr("height",3).attr("fill","#555");
svg.append("rect").attr("x",1663).attr("y",0).attr("width",5).attr("height",H).attr("fill","#2b70c2");
</script>
</body></html>
